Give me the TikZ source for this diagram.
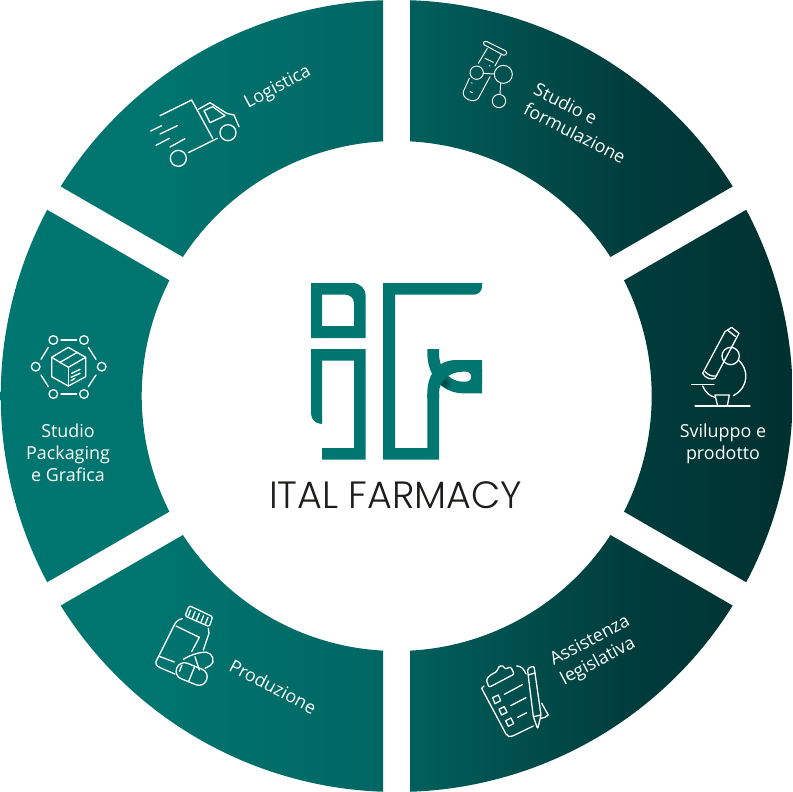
\documentclass[tikz,border=0pt]{standalone}
\usepackage{fontspec}
\setmainfont{Open Sans}
\newfontfamily\logofont{Poppins}[UprightFont=* Light]
\definecolor{logoc}{HTML}{007671}
\definecolor{logod}{HTML}{00403E}
\definecolor{logotxt}{HTML}{1D1D1B}
\definecolor{ra}{RGB}{0,118,113}
\definecolor{rb}{RGB}{0,116,111}
\definecolor{rc}{RGB}{0,102,99}
\definecolor{rd}{RGB}{0,95,92}
\definecolor{re}{RGB}{0,60,60}
\definecolor{rf}{RGB}{0,48,48}
\pgfdeclarehorizontalshading{ringshade}{100bp}{
 color(0bp)=(ra);
 color(25bp)=(ra);
 color(35bp)=(rb);
 color(49bp)=(rc);
 color(51bp)=(rd);
 color(65bp)=(re);
 color(75bp)=(rf);
 color(100bp)=(rf)}
\tikzset{
 icon/.style={draw=white,line width=1.3pt,line join=round,line cap=round},
 thinicon/.style={draw=white,line width=0.95pt,line join=round,line cap=round},
 lbl/.style={text=white,font=\fontsize{17.9}{22}\selectfont,align=center,inner sep=0pt},
 logofill/.style={fill=logoc,draw=none}
}
\newcommand\seg[2]{(#1+1.95:396) arc[start angle=#1+1.95,end angle=#2-1.95,radius=396] -- (#2-3.03:255) arc[start angle=#2-3.03,end angle=#1+3.03,radius=255] -- cycle }
\begin{document}
\begin{tikzpicture}[x=1pt,y=-1pt]
\useasboundingbox (0,0) rectangle (793,792);
\fill[white] (0,0) rectangle (793,792);
% ring
\begin{scope}[shift={(396.7,396)},x=1pt,y=1pt]
\clip \seg{-30}{30} \seg{30}{90} \seg{90}{150} \seg{150}{210} \seg{210}{270} \seg{270}{330};
\shade[shading=ringshade] (-397,-397) rectangle (397,397);
\end{scope}
% logo
\begin{scope}[shift={(250,270)},scale=1/3]
\fill[logofill,even odd rule] (183,39) -- (308,39) .. controls (330,39) and (347,56) .. (347,78) -- (347,204) -- (183,204) -- cycle
 (216,74) -- (216,168) -- (312,168) -- (312,100) .. controls (312,85) and (301,74) .. (286,74) -- cycle;
\fill[logofill] (183,237) -- (347,237) -- (347,569) -- (216,569) -- (216,534) -- (312,534) -- (312,272) -- (216,272) -- (216,462) .. controls (197,462) and (183,448) .. (183,430) -- cycle;
\fill[logofill] (532,237) -- (567,237) -- (567,250) .. controls (567,290) and (590,335) .. (640,335) -- (696,335) -- (696,370) -- (640,370) .. controls (580,370) and (532,320) .. (532,250) -- cycle;
\begin{scope}
\clip (532,237) -- (567,237) -- (567,250) .. controls (567,290) and (590,335) .. (640,335) -- (696,335) -- (696,370) -- (640,370) .. controls (580,370) and (532,320) .. (532,250) -- cycle;
\shade[inner color=logod,outer color=logoc,draw=none] (582,338) circle (24);
\end{scope}
\fill[logofill] (532,385) -- (532,370) .. controls (532,310) and (565,270) .. (620,270) -- (696,270) -- (696,305) -- (640,305) .. controls (600,305) and (567,330) .. (567,370) -- (567,385) -- cycle;
\fill[logofill] (399,39) -- (696,39) -- (696,50) .. controls (696,63) and (685,74) .. (672,74) -- (435,74) -- (435,534) -- (532,534) -- (532,370) -- (567,370) -- (567,569) -- (399,569) -- cycle;
\fill[logofill] (696,300) -- (640,300) -- (652,305) .. controls (662,310) and (664,315) .. (664,320) .. controls (664,326) and (662,331) .. (652,335) -- (640,340) -- (696,340) -- cycle;
\end{scope}
\node[inner sep=0pt,text=logotxt] (logotext) at (395.7,495) {\logofont\fontsize{38}{38}\selectfont ITAL FARMACY};
% labels
\node[lbl,rotate=28] (logistica) at (278,88) {Logistica};
\node[lbl,rotate=-27,align=left] (studio) at (580,123) {Studio e\\formulazione};
\node[lbl] (sviluppo) at (723,443.5) {Sviluppo e\\prodotto};
\node[lbl,rotate=28,align=left] (assistenza) at (595.5,651) {Assistenza\\legislativa};
\node[lbl,rotate=-28] (produzione) at (273,686.5) {Produzione};
\node[lbl] (packaging) at (68,452.5) {Studio\\Packaging\\e Grafica};
% truck
\begin{scope}[shift={(130,50)},scale=1/3]
\draw[icon] (90,197) -- (185,150) -- (248,265);
\draw[icon] (175,308) -- (262,265);
\draw[icon] (205,178) -- (240,158) -- (290,190) -- (312,195) -- (327,230);
\draw[icon] (222,182) -- (248,170) -- (285,197) -- (240,218) -- cycle;
\draw[icon] (294,248) circle (24);
\draw[icon] (145,325) circle (24);
\draw[icon] (62,243) -- (95,227);
\draw[icon] (90,252) -- (142,227);
\draw[icon] (78,286) -- (118,265);
\draw[icon] (120,291) -- (165,266);
\end{scope}
% flask
\begin{scope}[shift={(450,30)},scale=1/3]
\draw[thinicon,rounded corners=1.5] (105,32) -- (172,65) -- (165,78) -- (98,42) -- cycle;
\draw[thinicon] (112,55) -- (85,100);
\draw[thinicon] (153,75) -- (135,108);
\draw[thinicon] (58,145) -- (40,185) .. controls (35,205) and (70,222) .. (85,205) -- (120,140);
\draw[thinicon] (105,85) -- (130,97);
\draw[thinicon] (80,128) circle (20);
\draw[thinicon] (160,133) circle (27);
\draw[thinicon] (147,213) circle (20);
\draw[thinicon] (100,130) -- (133,132);
\draw[thinicon] (152,160) -- (150,192);
\draw[thinicon] (118,107) -- (120,108);
\draw[thinicon] (65,158) -- (66,160);
\draw[thinicon] (60,185) -- (68,188);
\end{scope}
% microscope
\begin{scope}[shift={(640,310)},scale=1/3]
\draw[icon] (255,65) -- (275,52) -- (297,70) -- (225,205) .. controls (215,210) and (195,205) .. (188,190) -- cycle;
\draw[icon] (262,60) -- (287,80);
\draw[icon] (195,185) .. controls (205,195) and (215,200) .. (228,198);
\draw[icon] (272,138) circle (26);
\draw[icon] (295,150) .. controls (325,175) and (330,230) .. (280,257);
\draw[icon] (155,224) -- (222,224);
\draw[icon] (188,228) .. controls (195,245) and (208,258) .. (225,262);
\draw[icon] (165,288) -- (330,288);
\draw[icon] (233,288) -- (225,255) -- (268,255) -- (262,288);
\end{scope}
% clipboard
\begin{scope}[shift={(470,600)},scale=1/3]
\draw[icon] (42,258) -- (35,265) -- (108,402) .. controls (112,410) and (120,412) .. (128,408) -- (190,378);
\draw[icon] (140,198) .. controls (155,198) and (162,208) .. (168,222);
\draw[icon] (215,310) -- (235,345) -- (225,352) -- (212,355);
\draw[icon,rounded corners=2] (48,238) -- (57,262) -- (133,222) -- (122,200) -- (105,208) .. controls (100,195) and (85,195) .. (82,215) -- (65,222) -- cycle;
\draw[icon] (68,293) -- (85,285) -- (92,302) -- (75,311) -- cycle;
\draw[icon] (87,328) -- (103,320) -- (111,337) -- (95,345) -- cycle;
\draw[icon] (107,362) -- (123,354) -- (131,371) -- (115,379) -- cycle;
\draw[icon] (103,283) -- (157,254);
\draw[icon] (122,317) -- (168,293);
\draw[icon] (143,352) -- (170,338);
\draw[icon,rounded corners=2] (172,205) -- (192,198) -- (213,345) -- (203,387) -- (190,350) -- cycle;
\draw[icon] (175,225) -- (195,219);
\draw[icon] (190,350) -- (213,345);
\end{scope}
% bottle
\begin{scope}[shift={(140,600)},scale=1/3]
\draw[icon,rounded corners=1.5] (148,17) -- (218,50) -- (208,80) -- (135,48) -- cycle;
\draw[icon] (152,30) -- (145,48);
\draw[icon] (165,35) -- (157,55);
\draw[icon] (178,40) -- (170,60);
\draw[icon] (191,46) -- (183,66);
\draw[icon] (204,52) -- (196,72);
\draw[icon] (127,56) .. controls (115,58) and (108,65) .. (103,75) -- (48,185) .. controls (47,195) and (52,200) .. (60,203) -- (105,222);
\draw[icon] (55,168) -- (103,186);
\draw[icon] (108,78) -- (178,112) -- (155,155);
\draw[icon] (205,85) -- (207,100) -- (190,150);
\begin{scope}[rotate around={-22:(155,222)}]
\draw[icon,rounded corners=8] (107,197) rectangle (203,247);
\draw[icon] (155,197) -- (155,247);
\draw[icon] (118,208) -- (118,228);
\end{scope}
\draw[icon] (130,178) .. controls (150,165) and (180,155) .. (200,157) .. controls (218,160) and (228,185) .. (210,197) -- (195,205);
\draw[icon] (165,170) -- (178,210);
\end{scope}
% packaging
\begin{scope}[shift={(15,320)},scale=1/3]
\foreach \p in {(115,60),(207,60),(260,140),(207,222),(115,222),(62,140)}{\draw[icon] \p circle (13);}
\draw[icon] (138,60) -- (185,60);
\draw[icon] (220,82) -- (243,118);
\draw[icon] (243,165) -- (220,200);
\draw[icon] (185,222) -- (138,222);
\draw[icon] (100,200) -- (78,165);
\draw[icon] (78,118) -- (100,82);
\draw[icon] (160,82) -- (212,112) -- (212,170) -- (160,198) -- (110,170) -- (110,112) -- cycle;
\draw[icon] (110,112) -- (160,142) -- (212,112);
\draw[icon] (160,142) -- (160,198);
\draw[icon] (135,127) -- (187,97);
\draw[icon] (170,160) -- (195,148);
\draw[icon] (168,172) -- (195,160);
\draw[icon] (168,182) -- (180,175);
\end{scope}
\end{tikzpicture}
\end{document}
